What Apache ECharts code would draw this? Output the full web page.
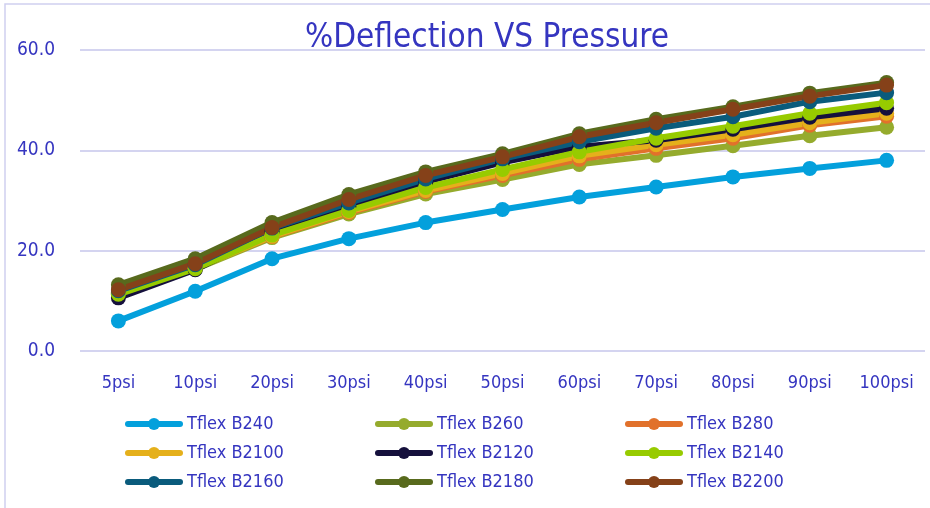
<!DOCTYPE html>
<html>
<head>
<meta charset="utf-8">
<script src="https://cdn.jsdelivr.net/npm/echarts@6/dist/echarts.min.js"></script>
<style>
  html, body { margin: 0; padding: 0; background: #fff; }
  #chart { width: 930px; height: 508px; }
</style>
</head>
<body>
<div id="chart"></div>
<script>
// categories (pressure)
var pressures = ['5psi', '10psi', '20psi', '30psi', '40psi', '50psi', '60psi', '70psi', '80psi', '90psi', '100psi']

// % deflection per product
var b240  = [6.0, 11.9, 18.4, 22.4, 25.6, 28.2, 30.7, 32.7, 34.7, 36.4, 38.0]
var b260  = [11.5, 16.3, 22.6, 27.3, 31.3, 34.2, 37.2, 39.0, 40.9, 42.9, 44.6]
var b280  = [11.8, 16.6, 22.8, 27.6, 31.8, 35.0, 38.2, 40.4, 42.4, 45.0, 46.8]
var b2100 = [11.7, 16.5, 22.9, 27.8, 32.0, 35.4, 38.9, 41.1, 43.1, 45.5, 47.4]
var b2120 = [10.6, 16.2, 23.8, 28.8, 33.7, 37.6, 40.7, 42.0, 44.2, 46.6, 48.4]
var b2140 = [11.3, 16.4, 23.1, 28.0, 32.6, 36.2, 39.7, 42.4, 44.8, 47.4, 49.5]
var b2160 = [12.0, 17.2, 24.5, 29.5, 34.3, 38.3, 41.7, 44.4, 46.7, 49.7, 51.5]
var b2180 = [13.2, 18.4, 25.6, 31.2, 35.7, 39.3, 43.3, 46.2, 48.7, 51.4, 53.5]
var b2200 = [12.2, 17.4, 24.6, 30.2, 35.0, 38.7, 42.7, 45.5, 48.2, 50.8, 53.0]

var names = ['Tflex B240', 'Tflex B260', 'Tflex B280', 'Tflex B2100', 'Tflex B2120',
  'Tflex B2140', 'Tflex B2160', 'Tflex B2180', 'Tflex B2200']
var values = [b240, b260, b280, b2100, b2120, b2140, b2160, b2180, b2200]
var colors = ['#03a0dc', '#95ab2d', '#e1712b', '#e5b01b', '#15103c',
  '#97cb00', '#0a5b7c', '#586a1d', '#854119']

var textColor = '#3535c0'
var gridColor = '#d4d4f0'
var font = "'DejaVu Sans Condensed', 'Liberation Sans', sans-serif"

var series = names.map(function (name, i) {
  return {
    name: name,
    type: 'line',
    data: values[i],
    symbol: 'circle',
    symbolSize: 15,
    color: colors[i],
    lineStyle: { width: 6, cap: 'round', join: 'round' },
    itemStyle: { color: colors[i] },
    emphasis: { disabled: true },
    animation: false
  }
})

// legend: three columns of three rows
function legendColumn (left, items) {
  return {
    orient: 'vertical',
    left: left,
    top: 410,
    itemWidth: 52,
    itemHeight: 15,
    itemGap: 11,
    data: items,
    lineStyle: { width: 6, cap: 'round' },
    textStyle: { color: textColor, fontSize: 18, fontFamily: font, padding: [0, 0, 0, 2] }
  }
}

var myChart = echarts.init(document.getElementById('chart'))
var option = {
  backgroundColor: '#fff',
  graphic: [{
    type: 'rect',
    shape: { x: 5, y: 4, width: 940, height: 520 },
    style: { fill: 'none', stroke: '#d0d0f0', lineWidth: 1.5 },
    silent: true
  }],
  title: {
    text: '%Deflection VS Pressure',
    left: 300,
    top: 17,
    textStyle: { color: textColor, fontSize: 33, fontWeight: 'normal', fontFamily: font }
  },
  grid: { left: 80, right: 5, top: 50, bottom: 157 },
  legend: [
    legendColumn(120, [names[0], names[3], names[6]]),
    legendColumn(370, [names[1], names[4], names[7]]),
    legendColumn(620, [names[2], names[5], names[8]])
  ],
  xAxis: {
    type: 'category',
    data: pressures,
    axisLine: { show: false },
    axisTick: { show: false },
    axisLabel: { color: textColor, fontSize: 18, fontFamily: font, margin: 23 }
  },
  yAxis: {
    type: 'value',
    min: 0,
    max: 60,
    interval: 20,
    axisLine: { show: false },
    axisTick: { show: false },
    splitLine: { lineStyle: { color: gridColor, width: 2 } },
    axisLabel: {
      color: textColor, fontSize: 19, fontFamily: font, margin: 25,
      formatter: function (v) { return v.toFixed(1) }
    }
  },
  series: series
}
myChart.setOption(option)
</script>
</body>
</html>
